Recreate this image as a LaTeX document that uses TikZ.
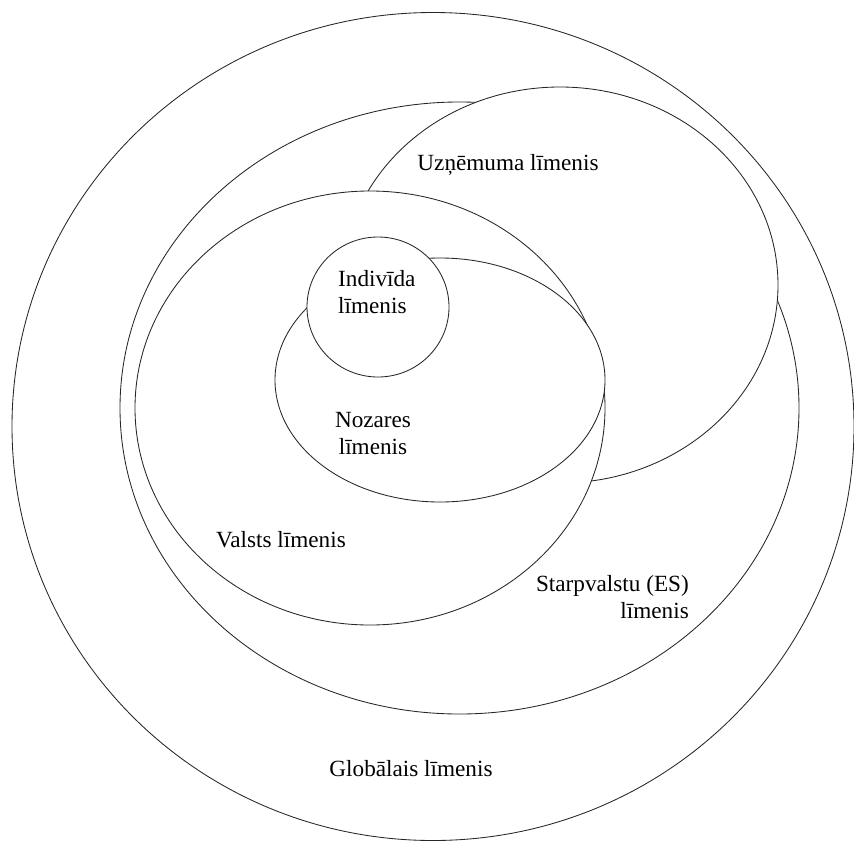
\documentclass[tikz,border=0pt]{standalone}
\usepackage{fontspec}
\setmainfont{Liberation Serif}
\usetikzlibrary{shapes.geometric}
\begin{document}
\begin{tikzpicture}[x=1pt,y=-1pt,
  ring/.style={ellipse, draw=black!85, line width=0.85pt, fill=white, inner sep=0pt, outer sep=0pt},
  lbl/.style={font=\fontsize{23.2}{27}\selectfont, inner sep=0pt, align=center}]
\useasboundingbox (0,0) rectangle (854,841);
% nested levels, drawn from the outside in; each white fill hides the lines below it
\node[ring, minimum width=842pt, minimum height=828pt] (global) at (433,426.5) {};
\node[ring, minimum width=679pt, minimum height=612pt] (starp) at (459.5,408) {};
\node[ring, minimum width=436pt, minimum height=396pt] (uzn) at (560,285) {};
\node[ring, minimum width=470pt, minimum height=434pt] (valsts) at (370,408) {};
\node[ring, minimum width=330pt, minimum height=244pt] (nozares) at (440,380) {};
\node[ring, minimum width=142pt, minimum height=140pt] (indiv) at (378,307) {};
% labels
\node[lbl] (uznlbl) at (508,165) {Uzņēmuma līmenis};
\node[lbl, align=left, anchor=west] (indivlbl) at (338,292) {Indivīda\\līmenis};
\node[lbl] (nozlbl) at (373,434) {Nozares\\līmenis};
\node[lbl] (valstslbl) at (281,540) {Valsts līmenis};
\node[lbl, align=right, anchor=east] (starplbl) at (689,597) {Starpvalstu (ES)\\līmenis};
\node[lbl] (globlbl) at (411,769) {Globālais līmenis};
\end{tikzpicture}
\end{document}
